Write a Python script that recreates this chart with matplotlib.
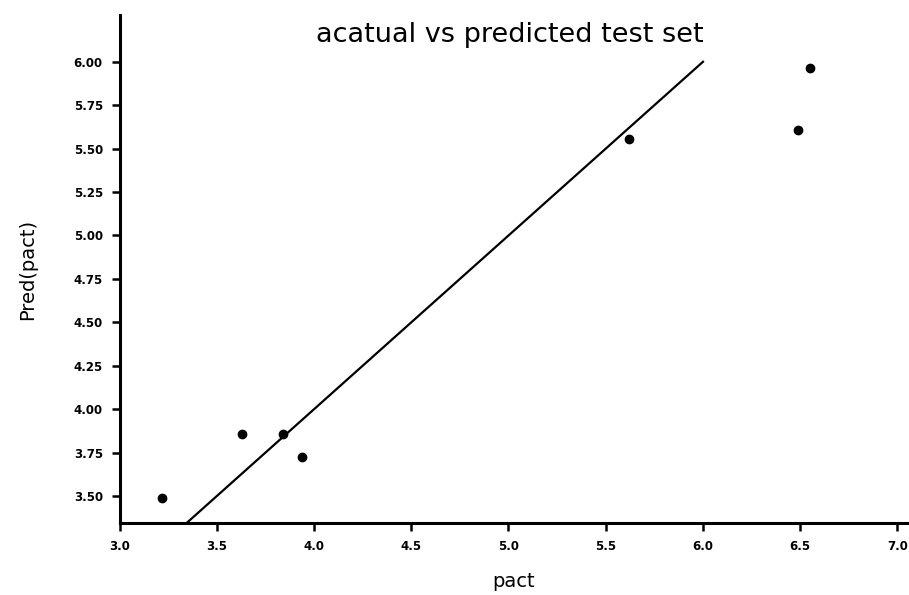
import matplotlib
matplotlib.use("Agg")
import matplotlib.pyplot as plt

# Data
actual = [3.22, 3.63, 3.84, 3.94, 5.62, 6.49, 6.55]
predicted = [3.49, 3.86, 3.86, 3.725, 5.555, 5.61, 5.965]
ideal_x = [3.0, 6.0]
ideal_y = [3.0, 6.0]
xticks = [3.0, 3.5, 4.0, 4.5, 5.0, 5.5, 6.0, 6.5, 7.0]
yticks = [3.50, 3.75, 4.00, 4.25, 4.50, 4.75, 5.00, 5.25, 5.50, 5.75, 6.00]

fig = plt.figure(figsize=(9.09, 5.95), dpi=100)
ax = fig.add_axes([0.1315, 0.121, 0.8665, 0.854])

ax.plot(ideal_x, ideal_y, color="black", lw=1.6, zorder=2)
ax.plot(actual, predicted, "o", color="black", markersize=6, zorder=3)

ax.set_xlim(3.0, 7.05)
ax.set_ylim(3.345, 6.27)
ax.set_xticks(xticks)
ax.set_xticklabels([f"{v:.1f}" for v in xticks])
ax.set_yticks(yticks)
ax.set_yticklabels([f"{v:.2f}" for v in yticks])

for s in ["top", "right"]:
    ax.spines[s].set_visible(False)
for s in ["left", "bottom"]:
    ax.spines[s].set_linewidth(2.2)

ax.tick_params(axis="both", direction="out", length=6, width=1.8,
               labelsize=8.5, pad=6)
for lbl in ax.get_xticklabels() + ax.get_yticklabels():
    lbl.set_fontweight("bold")

ax.set_xlabel("pact", fontsize=14, labelpad=14)
ax.set_ylabel("Pred(pact)", fontsize=14, labelpad=26)

fig.text(0.561, 0.942, "acatual vs predicted test set", fontsize=19.5,
         ha="center", va="center")

fig.savefig("out.png", dpi=100)
